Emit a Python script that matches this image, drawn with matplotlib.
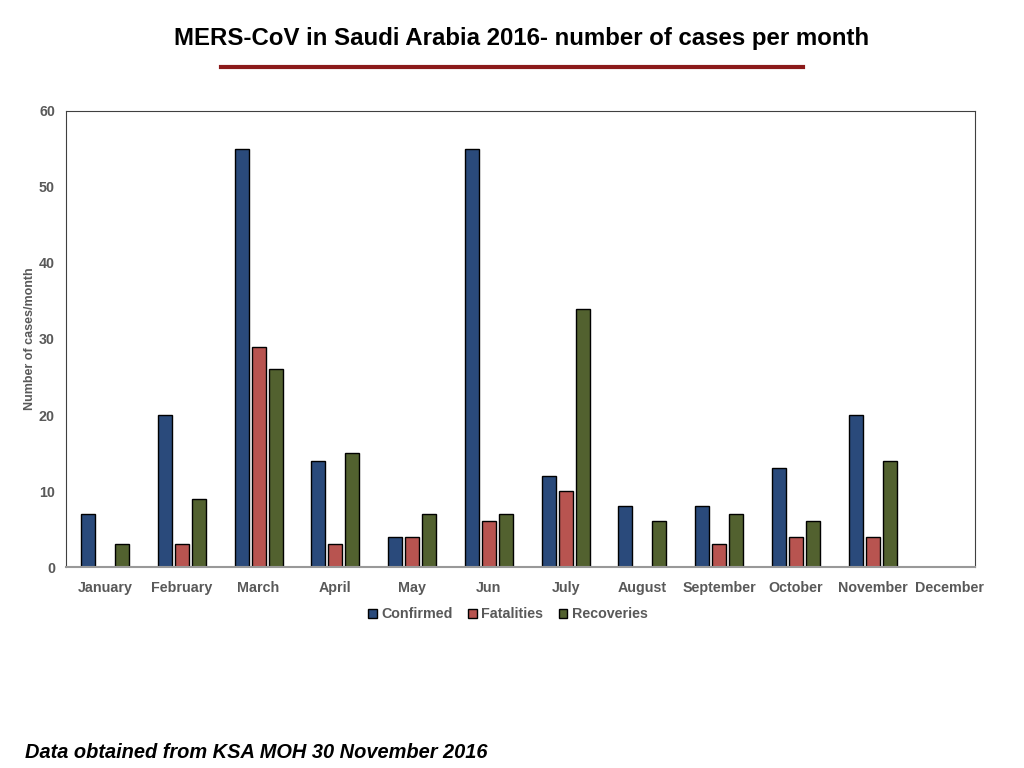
import numpy as np
import matplotlib
matplotlib.use('Agg')
import matplotlib.pyplot as plt

plt.rcParams['font.family'] = ['Liberation Sans', 'DejaVu Sans']

months = ['January', 'February', 'March', 'April', 'May', 'Jun', 'July',
          'August', 'September', 'October', 'November', 'December']
confirmed = [7, 20, 55, 14, 4, 55, 12, 8, 8, 13, 20, 0]
fatalities = [0, 3, 29, 3, 4, 6, 10, 0, 3, 4, 4, 0]
recoveries = [3, 9, 26, 15, 7, 7, 34, 6, 7, 6, 14, 0]

fig = plt.figure(figsize=(10.24, 7.68), dpi=100)
ax = fig.add_axes([0.0645, 0.2617, 0.8875, 0.5938])

x = np.arange(len(months))
w = 0.182
off = 0.221
gray = '#595959'
ax.bar(x - off, confirmed, w, color='#2a4a7b', edgecolor='black', lw=1, label='Confirmed')
ax.bar(x, fatalities, w, color='#b85450', edgecolor='black', lw=1, label='Fatalities')
ax.bar(x + off, recoveries, w, color='#52612f', edgecolor='black', lw=1, label='Recoveries')

# the last category runs slightly past the frame, as in the original
ax.set_xlim(-0.508, 11.33)
ax.set_ylim(0, 60)
ax.set_yticks(range(0, 61, 10))
ax.set_xticks(x)
ax.set_xticklabels(months)
ax.tick_params(length=0, labelsize=10.3, colors=gray)
ax.tick_params(axis='x', pad=10)
ax.tick_params(axis='y', pad=8)
for lab in ax.get_xticklabels() + ax.get_yticklabels():
    lab.set_fontweight('bold')
for lab in ax.get_xticklabels():
    lab.set_clip_on(False)
for s in ['left', 'top', 'right']:
    ax.spines[s].set_color('#404040')
ax.spines['bottom'].set_color('#999999')
ax.spines['bottom'].set_linewidth(1.5)
ax.set_ylabel('Number of cases/month', fontsize=9, fontweight='bold', color=gray, labelpad=2)

leg = ax.legend(loc='upper center', bbox_to_anchor=(0.486, -0.06), ncol=3, frameon=False,
                fontsize=10.3, handlelength=0.6, handleheight=0.6, handletextpad=0.3,
                columnspacing=1.1)
for t in leg.get_texts():
    t.set_color(gray)
    t.set_fontweight('bold')

fig.text(0.509, 1 - 38 / 768, 'MERS-CoV in Saudi Arabia 2016- number of cases per month',
         ha='center', va='center', fontsize=17.3, fontweight='bold')
fig.add_artist(plt.Line2D([221 / 1024, 803 / 1024], [1 - 67 / 768] * 2,
                          color='#8b1a1a', lw=3, transform=fig.transFigure))
fig.text(25 / 1024, 1 - 752 / 768, 'Data obtained from KSA MOH 30 November 2016',
         ha='left', va='center', fontsize=14.4, fontweight='bold', style='italic')

fig.savefig('out.png', dpi=100)
